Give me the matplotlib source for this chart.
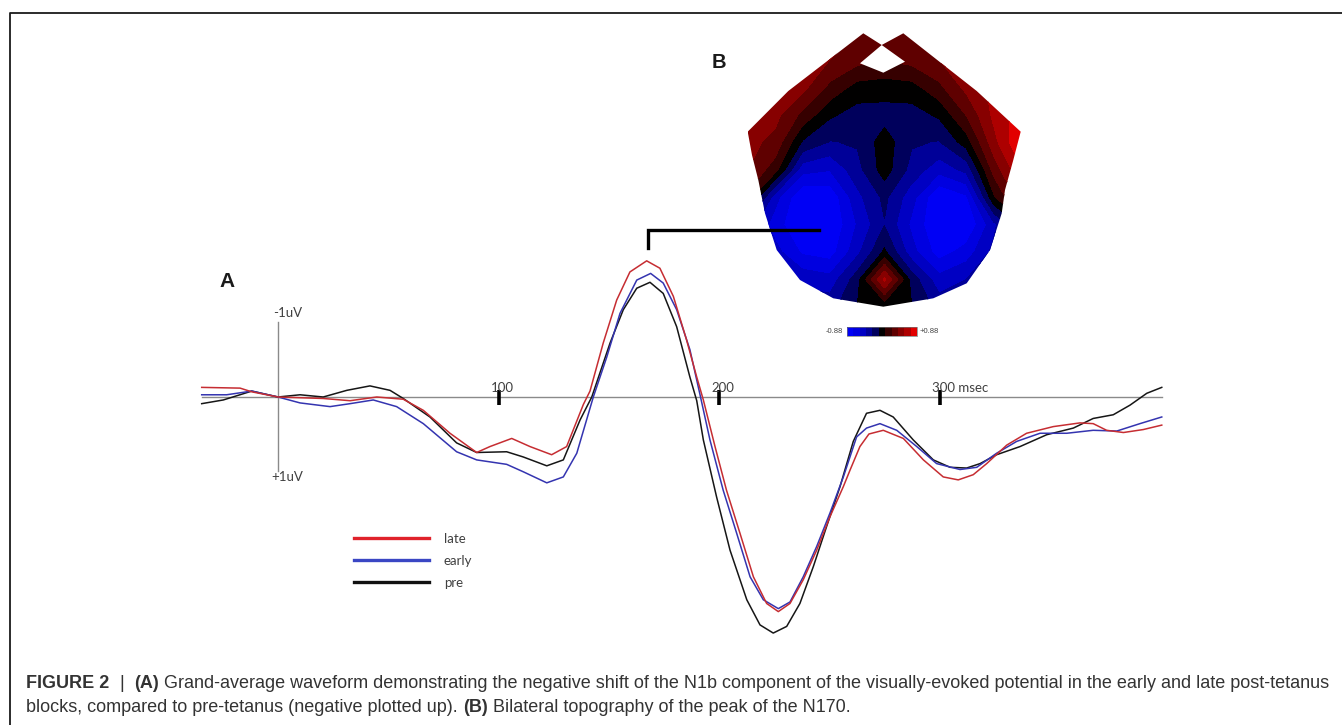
import matplotlib
matplotlib.use('Agg')
import matplotlib.pyplot as plt
import numpy as np
from matplotlib.colors import LinearSegmentedColormap
from matplotlib.patches import Polygon
from matplotlib.lines import Line2D

# ---- waveform data (ms, uV; negative plotted up) ----
late_t = [-34.6, -17.2, -11.9, 0.0, 20.5, 32.7, 44.8, 56.8, 65.9, 78.0, 90.1, 96.1, 106.0, 114.3,
          124.1, 130.9, 138.5, 141.5, 147.5, 153.6, 159.6, 167.2, 173.2, 179.3, 185.3, 189.9, 192.9,
          198.2, 203.4, 209.5, 215.6, 221.6, 226.9, 232.2, 238.2, 244.3, 250.3, 256.4, 259.4, 263.9,
          268.0, 274.5, 283.6, 292.7, 301.7, 308.5, 315.3, 321.4, 330.5, 339.5, 351.6, 363.7, 369.7,
          375.8, 383.4, 392.4, 400.8]
late_v = [-0.13, -0.12, -0.07, 0.00, 0.02, 0.05, 0.00, 0.03, 0.18, 0.49, 0.75, 0.67, 0.56, 0.67,
          0.78, 0.67, 0.10, -0.08, -0.73, -1.31, -1.69, -1.84, -1.74, -1.36, -0.77, -0.27, 0.04,
          0.67, 1.26, 1.84, 2.43, 2.79, 2.90, 2.79, 2.47, 2.07, 1.62, 1.21, 0.99, 0.67,
          0.50, 0.45, 0.56, 0.85, 1.08, 1.12, 1.05, 0.90, 0.65, 0.49, 0.40, 0.35, 0.36,
          0.45, 0.48, 0.44, 0.38]

early_t = [-34.6, -23.3, -11.9, 0.0, 10.0, 23.6, 32.7, 43.2, 53.8, 65.9, 81.0, 90.1, 103.7, 111.2,
           121.9, 129.4, 135.5, 143.0, 149.1, 155.1, 162.7, 169.0, 174.7, 180.8, 186.8, 191.4, 195.9,
           201.9, 208.0, 214.1, 220.1, 226.9, 232.2, 238.2, 244.3, 250.3, 256.4, 262.4, 266.9, 273.0,
           280.6, 289.7, 298.7, 309.3, 316.9, 325.9, 335.0, 345.6, 357.7, 369.7, 380.4, 390.9, 400.8]
early_v = [-0.03, -0.03, -0.08, 0.00, 0.08, 0.13, 0.09, 0.04, 0.13, 0.36, 0.74, 0.85, 0.91, 1.01,
           1.16, 1.08, 0.76, 0.00, -0.54, -1.13, -1.58, -1.67, -1.54, -1.18, -0.64, -0.03, 0.58,
           1.26, 1.84, 2.43, 2.74, 2.86, 2.77, 2.43, 2.02, 1.57, 1.08, 0.54, 0.42, 0.36,
           0.45, 0.67, 0.90, 0.98, 0.95, 0.76, 0.60, 0.49, 0.49, 0.45, 0.46, 0.36, 0.27]

pre_t = [-34.6, -24.8, -11.9, 0.0, 10.0, 20.5, 31.2, 41.7, 50.8, 56.8, 68.9, 81.0, 90.1, 103.7,
         111.2, 121.9, 129.4, 137.0, 142.3, 150.6, 156.6, 162.7, 168.7, 174.7, 180.8, 186.8, 189.9,
         192.9, 198.9, 205.0, 212.6, 218.6, 224.6, 230.7, 236.7, 242.8, 248.8, 254.9, 260.9, 266.9,
         273.0, 279.0, 288.1, 297.2, 304.8, 312.3, 318.4, 325.9, 336.5, 348.6, 360.7, 369.7, 378.8,
         386.4, 394.0, 400.8]
pre_v = [0.09, 0.04, -0.08, 0.00, -0.03, 0.00, -0.09, -0.15, -0.09, 0.02, 0.27, 0.62, 0.75, 0.74,
         0.81, 0.93, 0.85, 0.31, 0.00, -0.73, -1.18, -1.47, -1.55, -1.40, -0.95, -0.27, 0.05,
         0.58, 1.35, 2.07, 2.74, 3.08, 3.19, 3.10, 2.79, 2.29, 1.75, 1.21, 0.60, 0.22,
         0.18, 0.27, 0.58, 0.85, 0.95, 0.96, 0.90, 0.78, 0.67, 0.51, 0.42, 0.29, 0.24,
         0.11, -0.05, -0.13]

tick_ms = [100, 200, 300]
tick_labels = ['100', '200', '300 msec']
legend_labels = ['late', 'early', 'pre']

# topography values (uV) on a coarse 11 x 11 grid, top row = front of head
topo_values = [
    [0.45, 0.45, 0.45, 0.45, 0.40, 0.35, 0.40, 0.45, 0.50, 0.60, 0.70],
    [0.45, 0.45, 0.45, 0.40, 0.30, 0.25, 0.30, 0.40, 0.50, 0.60, 0.70],
    [0.50, 0.50, 0.45, 0.20, 0.02, 0.00, 0.02, 0.20, 0.45, 0.60, 0.75],
    [0.50, 0.45, 0.20, -0.05, -0.15, -0.15, -0.15, -0.05, 0.25, 0.60, 0.80],
    [0.45, 0.35, -0.10, -0.25, -0.22, 0.00, -0.22, -0.25, 0.00, 0.50, 0.88],
    [0.40, 0.15, -0.50, -0.55, -0.30, 0.00, -0.30, -0.50, -0.35, 0.30, 0.70],
    [0.20, -0.50, -0.88, -0.85, -0.45, -0.20, -0.50, -0.88, -0.75, 0.05, 0.50],
    [-0.30, -0.65, -0.88, -0.88, -0.55, -0.25, -0.60, -0.88, -0.88, -0.45, 0.00],
    [-0.30, -0.50, -0.75, -0.80, -0.45, -0.05, -0.50, -0.80, -0.65, -0.35, -0.20],
    [-0.30, -0.40, -0.45, -0.50, -0.15, 0.60, -0.15, -0.50, -0.40, -0.30, -0.20],
    [-0.30, -0.30, -0.30, -0.30, -0.08, -0.05, -0.08, -0.30, -0.30, -0.25, -0.20],
]
topo_range = 0.88

W, H = 1342, 725
# pixel calibration of panel A
X0_PX, PX_PER_MS = 278.0, 2.205
Y0_PX, PX_PER_UV = 397.0, 74.0

LABEL_FONT = ['Lato', 'DejaVu Sans']
ARIAL = ['Liberation Sans', 'DejaVu Sans']


def px_box(x0, x1, y0, y1):
    return [x0 / W, 1 - y1 / H, (x1 - x0) / W, (y1 - y0) / H]


fig = plt.figure(figsize=(W / 100, H / 100), dpi=100)
fig.patch.set_facecolor('white')

# ---------------- panel A: waveforms ----------------
xlim = (-40, 410)
ylim = (-2.6, 3.6)
ax = fig.add_axes(px_box(X0_PX + xlim[0] * PX_PER_MS, X0_PX + xlim[1] * PX_PER_MS,
                         Y0_PX + ylim[0] * PX_PER_UV, Y0_PX + ylim[1] * PX_PER_UV))
ax.set_xlim(*xlim)
ax.set_ylim(ylim[1], ylim[0])  # negative up
ax.axis('off')

# axes cross
ax.plot([pre_t[0], pre_t[-1]], [0, 0], color='#8a8a8a', lw=1.0, zorder=1)
ax.plot([0, 0], [-1.02, 1.0], color='#8a8a8a', lw=1.0, zorder=1)
ax.text(-2.4, -1.08, '-1uV', fontsize=9.5, family=LABEL_FONT, color='#404040', va='baseline')
ax.text(-3.2, 1.13, '+1uV', fontsize=9.5, family=LABEL_FONT, color='#404040', va='baseline')

for tk, lab in zip(tick_ms, tick_labels):
    ax.plot([tk, tk], [-0.09, 0.11], color='black', lw=2.6, solid_capstyle='butt', zorder=2)
    ax.text(tk - 3.6, -0.07, lab, fontsize=9.5, family=LABEL_FONT, color='#404040',
            ha='left', va='baseline')

ax.plot(pre_t, pre_v, color='#161616', lw=1.1, zorder=3)
ax.plot(early_t, early_v, color='#3434b0', lw=1.1, zorder=4)
ax.plot(late_t, late_v, color='#c62d32', lw=1.1, zorder=5)

handles = [Line2D([], [], color='#e0222b', lw=2.4),
           Line2D([], [], color='#3a46c4', lw=2.4),
           Line2D([], [], color='#111111', lw=2.4)]
leg = fig.legend(handles, legend_labels, loc='upper left', bbox_to_anchor=(354 / W, 1 - 533 / H),
                 frameon=False, borderpad=0, borderaxespad=0, handlelength=5.7,
                 handletextpad=1.1, labelspacing=0.75, prop={'family': LABEL_FONT, 'size': 9.5})
for t in leg.get_texts():
    t.set_color('#404040')

fig.text(219 / W, 1 - 286.7 / H, 'A', fontsize=15, weight='bold', family=ARIAL, color='#1a1a1a')

# ---------------- panel B: topography ----------------
tax = fig.add_axes(px_box(740, 1030, 25, 315))
tax.set_xlim(740, 1030)
tax.set_ylim(315, 25)
tax.axis('off')

cmap = LinearSegmentedColormap.from_list('bkr', [
    (0.0, '#0000ff'), (0.2, '#0000d0'), (0.35, '#000088'), (0.45, '#00003c'), (0.5, '#000000'),
    (0.58, '#300000'), (0.75, '#7e0000'), (0.9, '#bb0000'), (1.0, '#ff0000')])
levels = np.linspace(-topo_range, topo_range, 12)
xs = np.linspace(748, 1021, len(topo_values[0]))
ys = np.linspace(32, 307, len(topo_values))
cs = tax.contourf(xs, ys, np.array(topo_values), levels=levels, cmap=cmap)

head_xy = [(747.7, 131.7), (788.3, 91), (863.3, 33.3), (881.7, 45), (903.3, 33.3), (976.7, 91),
           (1020.7, 131.7), (1013.3, 160), (1005, 190), (1001.7, 213.3), (990, 250), (966.7, 283.3),
           (933.3, 298.3), (883.3, 306.7), (833.3, 298.3), (800, 280), (776.7, 250), (765, 213.3),
           (758.3, 180), (752, 155)]
head = Polygon(head_xy, closed=True, facecolor='none', edgecolor='none')
tax.add_patch(head)
cs.set_clip_path(head)
notch = Polygon([(881.7, 45), (860, 63.3), (883.3, 72.7), (905, 61.7)], closed=True,
                facecolor='white', edgecolor='none', zorder=3)
tax.add_patch(notch)

fig.text(711.5 / W, 1 - 67.7 / H, 'B', fontsize=14.5, weight='bold', family=ARIAL, color='#1a1a1a')

cax = fig.add_axes(px_box(847, 917, 327, 336))
cb = fig.colorbar(cs, cax=cax, orientation='horizontal')
cb.set_ticks([])
cb.outline.set_edgecolor('#777777')
cb.outline.set_linewidth(0.5)
fig.text(843 / W, 1 - 331.5 / H, f'-{topo_range:.2f}', fontsize=5.5, color='#444444',
         ha='right', va='center', family=ARIAL)
fig.text(920 / W, 1 - 331.5 / H, f'+{topo_range:.2f}', fontsize=5.5, color='#444444',
         ha='left', va='center', family=ARIAL)

# ---------------- overlay: frame and bracket ----------------
ov = fig.add_axes([0, 0, 1, 1], zorder=5)
ov.set_xlim(0, W)
ov.set_ylim(H, 0)
ov.axis('off')
ov.patch.set_alpha(0)
ov.plot([9.5, 9.5, W + 5], [H + 5, 12.5, 12.5], color='#1a1a1a', lw=1.3, clip_on=False)
ov.plot([648, 648, 819], [248, 230, 230], color='black', lw=2.4, solid_joinstyle='miter')

# ---------------- caption ----------------
renderer = fig.canvas.get_renderer()


def draw_runs(x_px, base_px, runs, size=13.0):
    x = x_px
    for s, w in runs:
        t = fig.text(x / W, 1 - base_px / H, s, fontsize=size, weight=w, family=ARIAL,
                     color='#333333', va='baseline', ha='left')
        x += t.get_window_extent(renderer).width


draw_runs(26.5, 687.5, [('FIGURE 2', 'bold'), ('  |  ', 'normal'), ('(A)', 'bold'),
                        (' Grand-average waveform demonstrating the negative shift of the N1b component '
                         'of the visually-evoked potential in the early and late post-tetanus', 'normal')])
draw_runs(26.5, 712.5, [('blocks, compared to pre-tetanus (negative plotted up). ', 'normal'),
                        ('(B)', 'bold'), (' Bilateral topography of the peak of the N170.', 'normal')])

fig.savefig('out.png', dpi=100, facecolor='white')
